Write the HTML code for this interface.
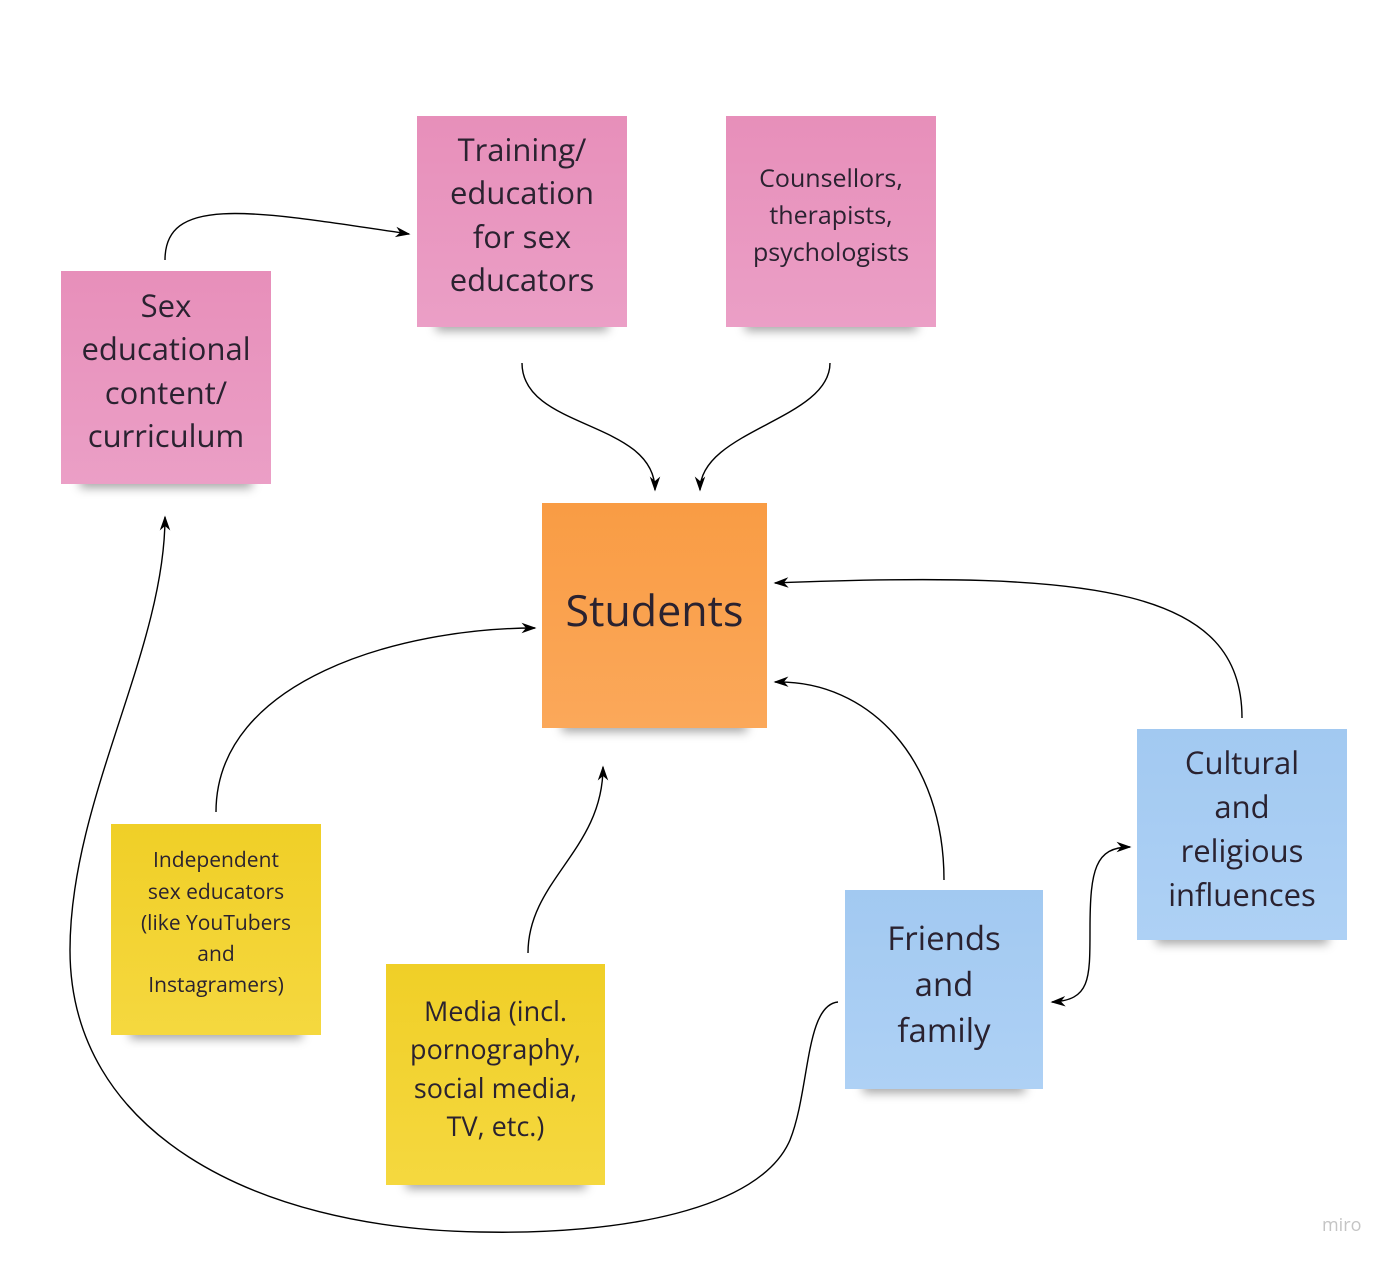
<!DOCTYPE html>
<html><head><meta charset="utf-8"><style>
html,body{margin:0;padding:0;background:#fff;}
body{width:1400px;height:1265px;position:relative;overflow:hidden;font-family:"Open Sans","DejaVu Sans","Liberation Sans",sans-serif;color:#2a2230;}
.n{position:absolute;display:flex;align-items:center;justify-content:center;text-align:center;box-sizing:border-box;padding-bottom:12px;}
.s{position:absolute;height:14px;box-shadow:0 8px 10px rgba(0,0,0,0.35);background:#ccc;}
.pink{background:linear-gradient(#e78fba,#eb9fc6);}
.or{background:linear-gradient(#f99c44,#fba85a);}
.ye{background:linear-gradient(#f0cf27,#f5d83f);}
.bl{background:linear-gradient(#a2c9f1,#aed1f5);}
svg{position:absolute;left:0;top:0;}
</style></head><body>
<div class="s" style="left:80px;top:466px;width:172px;"></div>
<div class="s" style="left:436px;top:309px;width:172px;"></div>
<div class="s" style="left:745px;top:309px;width:172px;"></div>
<div class="s" style="left:562px;top:710px;width:185px;"></div>
<div class="s" style="left:130px;top:1017px;width:172px;"></div>
<div class="s" style="left:406px;top:1167px;width:180px;"></div>
<div class="s" style="left:863px;top:1071px;width:162px;"></div>
<div class="s" style="left:1156px;top:922px;width:172px;"></div>
<div class="n pink" style="left:61px;top:271px;width:210px;height:213px;font-size:31px;line-height:43.5px;">Sex<br>educational<br>content/<br>curriculum</div>
<div class="n pink" style="left:417px;top:116px;width:210px;height:211px;font-size:31px;line-height:43.5px;">Training/<br>education<br>for sex<br>educators</div>
<div class="n pink" style="left:726px;top:116px;width:210px;height:211px;font-size:25px;line-height:37px;">Counsellors,<br>therapists,<br>psychologists</div>
<div class="n or" style="left:542px;top:503px;width:225px;height:225px;font-size:43px;">Students</div>
<div class="n ye" style="left:111px;top:824px;width:210px;height:211px;font-size:21px;line-height:31.3px;">Independent<br>sex educators<br>(like YouTubers<br>and<br>Instagramers)</div>
<div class="n ye" style="left:386px;top:964px;width:219px;height:221px;font-size:27px;line-height:38.5px;">Media (incl.<br>pornography,<br>social media,<br>TV, etc.)</div>
<div class="n bl" style="left:845px;top:890px;width:198px;height:199px;font-size:33px;line-height:46px;">Friends<br>and<br>family</div>
<div class="n bl" style="left:1137px;top:729px;width:210px;height:211px;font-size:31px;line-height:44px;">Cultural<br>and<br>religious<br>influences</div>
<div style="position:absolute;left:1322px;top:1213px;font-size:18px;color:#c4c4c4;">miro</div>
<svg width="1400" height="1265" viewBox="0 0 1400 1265">
<defs><marker id="a" viewBox="0 0 10 10" refX="9" refY="5" markerWidth="15" markerHeight="15" orient="auto-start-reverse" markerUnits="userSpaceOnUse"><path d="M0,1.5 L10,5 L0,8.5 L3,5 z" fill="#000"/></marker></defs>
<g fill="none" stroke="#000" stroke-width="1.4">
<path d="M165,260 C165,195 250,210 409,234" marker-end="url(#a)"/>
<path d="M522,363 C522,430 655,420 655,490" marker-end="url(#a)"/>
<path d="M830,363 C830,420 700,430 700,490" marker-end="url(#a)"/>
<path d="M216,812 C216,680 400,628 535,628" marker-end="url(#a)"/>
<path d="M528,953 C528,880 603,850 603,767" marker-end="url(#a)"/>
<path d="M944,880 C944,760 870,680 775,682" marker-end="url(#a)"/>
<path d="M1242,718 C1242,590 1100,570 775,583" marker-end="url(#a)"/>
<path d="M1052,1002 C1090,1000 1090,980 1090,930 C1090,870 1095,847 1130,847" marker-start="url(#a)" marker-end="url(#a)"/>
<path d="M838,1002 C805,1005 810,1090 790,1140 C760,1210 620,1235 480,1232 C250,1228 70,1130 70,950 C70,800 165,650 165,517" marker-end="url(#a)"/>
</g></svg>
</body></html>
